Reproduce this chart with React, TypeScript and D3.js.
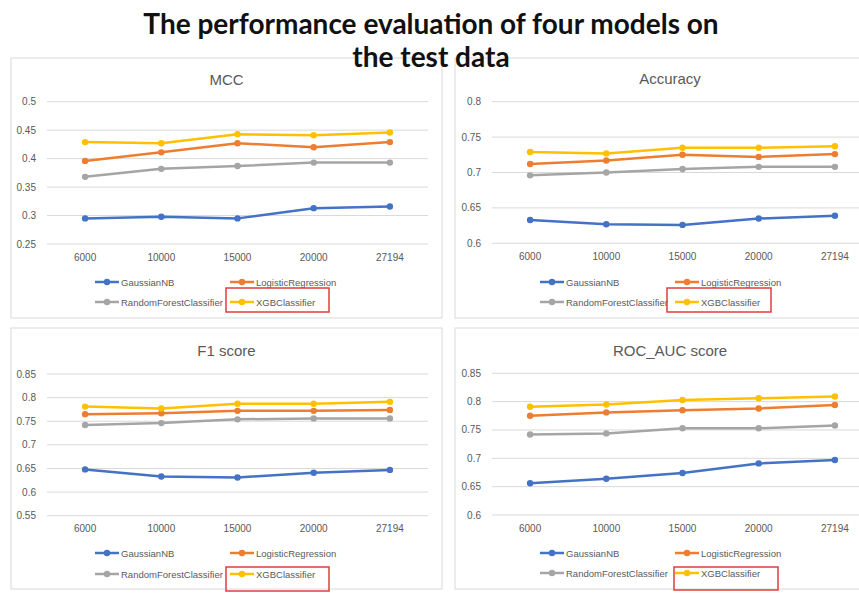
import React from "react";
import * as d3 from "d3";

const categories = ["6000", "10000", "15000", "20000", "27194"];
const seriesNames = ["GaussianNB", "LogisticRegression", "RandomForestClassifier", "XGBClassifier"];
const seriesColors = ["#4472C4", "#ED7D31", "#A5A5A5", "#FFC000"];

// rows: GaussianNB, LogisticRegression, RandomForestClassifier, XGBClassifier
const mccValues = [
  [0.295, 0.298, 0.295, 0.313, 0.316],
  [0.396, 0.411, 0.427, 0.42, 0.429],
  [0.368, 0.382, 0.387, 0.393, 0.393],
  [0.429, 0.427, 0.443, 0.441, 0.446],
];
const accuracyValues = [
  [0.633, 0.627, 0.626, 0.635, 0.639],
  [0.712, 0.717, 0.725, 0.722, 0.726],
  [0.696, 0.7, 0.705, 0.708, 0.708],
  [0.729, 0.727, 0.735, 0.735, 0.737],
];
const f1Values = [
  [0.648, 0.633, 0.631, 0.641, 0.647],
  [0.765, 0.767, 0.772, 0.772, 0.774],
  [0.742, 0.746, 0.754, 0.756, 0.756],
  [0.781, 0.777, 0.787, 0.787, 0.791],
];
const rocValues = [
  [0.656, 0.664, 0.674, 0.691, 0.697],
  [0.775, 0.781, 0.785, 0.788, 0.794],
  [0.742, 0.744, 0.753, 0.753, 0.758],
  [0.791, 0.795, 0.803, 0.806, 0.809],
];

const mccTicks = [0.25, 0.3, 0.35, 0.4, 0.45, 0.5];
const accuracyTicks = [0.6, 0.65, 0.7, 0.75, 0.8];
const f1Ticks = [0.55, 0.6, 0.65, 0.7, 0.75, 0.8, 0.85];
const rocTicks = [0.6, 0.65, 0.7, 0.75, 0.8, 0.85];

const FONT = "'Liberation Sans', Arial, sans-serif";
const TEXT = "#595959";
const GRID = "#d9d9d9";

type PanelProps = {
  title: string;
  values: number[][];
  ticks: number[];
  box: { x: number; y: number; w: number; h: number };
  plot: { x0: number; x1: number; y0: number; y1: number };
  titleY: number;
  legendY: [number, number];
  redBox: { x: number; y: number; w: number; h: number };
};

function Panel({ title, values, ticks, box, plot, titleY, legendY, redBox }: PanelProps) {
  const x = d3.scalePoint<string>().domain(categories).range([plot.x0, plot.x1]).padding(0.5);
  const y = d3
    .scaleLinear()
    .domain([ticks[0], ticks[ticks.length - 1]])
    .range([plot.y1, plot.y0]);
  const line = d3
    .line<number>()
    .x((_, i) => x(categories[i]) ?? 0)
    .y((d) => y(d));

  const legendCols = [plot.x0 + 48, plot.x0 + 183];

  return (
    <g>
      <rect x={box.x} y={box.y} width={box.w} height={box.h} fill="#fff" stroke={GRID} strokeWidth={1} />
      <text
        x={box.x + box.w / 2}
        y={titleY}
        textAnchor="middle"
        dominantBaseline="central"
        fontFamily={FONT}
        fontSize={15}
        fill={TEXT}
      >
        {title}
      </text>
      {ticks.map((t) => (
        <g key={t}>
          <line x1={plot.x0} x2={plot.x1} y1={y(t)} y2={y(t)} stroke={GRID} strokeWidth={1} />
          <text
            x={plot.x0 - 11}
            y={y(t)}
            textAnchor="end"
            dominantBaseline="central"
            fontFamily={FONT}
            fontSize={10}
            fill={TEXT}
          >
            {String(t)}
          </text>
        </g>
      ))}
      {categories.map((c) => (
        <text
          key={c}
          x={x(c)}
          y={plot.y1 + 13}
          textAnchor="middle"
          dominantBaseline="central"
          fontFamily={FONT}
          fontSize={10}
          fill={TEXT}
        >
          {c}
        </text>
      ))}
      {values.map((vals, s) => (
        <g key={seriesNames[s]}>
          <path d={line(vals) ?? ""} fill="none" stroke={seriesColors[s]} strokeWidth={2.5} strokeLinejoin="round" />
          {vals.map((v, i) => (
            <circle key={i} cx={x(categories[i])} cy={y(v)} r={3.2} fill={seriesColors[s]} />
          ))}
        </g>
      ))}
      {seriesNames.map((name, s) => {
        const lx = legendCols[s % 2];
        const ly = legendY[Math.floor(s / 2)];
        return (
          <g key={name}>
            <line x1={lx} x2={lx + 24} y1={ly} y2={ly} stroke={seriesColors[s]} strokeWidth={2.5} />
            <circle cx={lx + 12} cy={ly} r={3.2} fill={seriesColors[s]} />
            <text
              x={lx + 26}
              y={ly}
              dominantBaseline="central"
              fontFamily={FONT}
              fontSize={9.5}
              fill={TEXT}
            >
              {name}
            </text>
          </g>
        );
      })}
      <rect
        x={redBox.x}
        y={redBox.y}
        width={redBox.w}
        height={redBox.h}
        fill="none"
        stroke="#e03c3c"
        strokeWidth={1.5}
      />
    </g>
  );
}

export default function App() {
  const width = 859;
  const height = 606;
  return (
    <svg
      width={width}
      height={height}
      style={{ position: "fixed", left: 0, top: 0, background: "#fff" }}
    >
      <rect width={width} height={height} fill="#fff" />
      <Panel
        title="MCC"
        values={mccValues}
        ticks={mccTicks}
        box={{ x: 11, y: 58, w: 431, h: 260 }}
        plot={{ x0: 47, x1: 428, y0: 101.7, y1: 244 }}
        titleY={79}
        legendY={[282, 302]}
        redBox={{ x: 226, y: 288, w: 103, h: 24 }}
      />
      <Panel
        title="Accuracy"
        values={accuracyValues}
        ticks={accuracyTicks}
        box={{ x: 455, y: 58, w: 430, h: 260 }}
        plot={{ x0: 492, x1: 873, y0: 101.7, y1: 243.3 }}
        titleY={78}
        legendY={[282, 302]}
        redBox={{ x: 667, y: 288, w: 104, h: 24 }}
      />
      <Panel
        title="F1 score"
        values={f1Values}
        ticks={f1Ticks}
        box={{ x: 11, y: 328, w: 431, h: 261 }}
        plot={{ x0: 47, x1: 428, y0: 374, y1: 515.7 }}
        titleY={350}
        legendY={[553, 574]}
        redBox={{ x: 226, y: 567, w: 103, h: 24 }}
      />
      <Panel
        title="ROC_AUC score"
        values={rocValues}
        ticks={rocTicks}
        box={{ x: 455, y: 328, w: 430, h: 261 }}
        plot={{ x0: 492, x1: 873, y0: 373.3, y1: 515 }}
        titleY={350}
        legendY={[553, 573]}
        redBox={{ x: 674, y: 567, w: 104, h: 23 }}
      />
      <text
        x={431}
        y={34}
        textAnchor="middle"
        fontFamily="Lato, 'Open Sans', sans-serif"
        fontWeight={700}
        fontSize={28}
        fill="#111"
      >
        The performance evaluation of four models on
      </text>
      <text
        x={431}
        y={67}
        textAnchor="middle"
        fontFamily="Lato, 'Open Sans', sans-serif"
        fontWeight={700}
        fontSize={28}
        fill="#111"
      >
        the test data
      </text>
    </svg>
  );
}
